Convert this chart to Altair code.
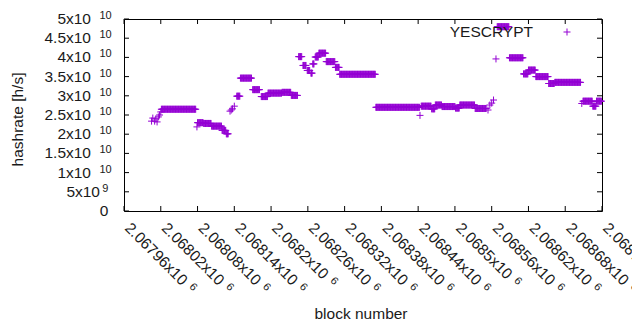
import altair as alt
import pandas as pd

# Runs of constant hashrate: first block, last block, hashrate (in 1e9 h/s)
run_start = [2068005, 2068007, 2068010, 2068012, 2068014, 2068016, 2068018, 2068020,
             2068021, 2068079, 2068080, 2068090, 2068103, 2068120, 2068127,
             2068133, 2068135, 2068137, 2068140, 2068144, 2068150, 2068170,
             2068184, 2068195, 2068218, 2068233, 2068245, 2068252, 2068259,
             2068265, 2068268, 2068272, 2068278, 2068290, 2068305, 2068312,
             2068371, 2068443, 2068445, 2068462, 2068468, 2068479, 2068501,
             2068508, 2068533, 2068554, 2068557, 2068560, 2068563, 2068567,
             2068569, 2068589, 2068612, 2068620, 2068632, 2068653, 2068663,
             2068707, 2068709, 2068725, 2068731]
run_end = [2068005, 2068007, 2068010, 2068012, 2068014, 2068016, 2068018, 2068020,
           2068077, 2068079, 2068089, 2068102, 2068119, 2068126, 2068130,
           2068133, 2068135, 2068137, 2068140, 2068149, 2068168, 2068181,
           2068194, 2068217, 2068232, 2068243, 2068250, 2068257, 2068263,
           2068267, 2068270, 2068277, 2068289, 2068304, 2068311, 2068370,
           2068442, 2068443, 2068461, 2068467, 2068478, 2068500, 2068507,
           2068532, 2068551, 2068554, 2068557, 2068560, 2068563, 2068567,
           2068588, 2068611, 2068619, 2068631, 2068652, 2068662, 2068705,
           2068707, 2068724, 2068730, 2068739]
run_value = [23.4, 24.2, 23.4, 24.0, 23.2, 24.5, 25.0, 25.8,
             26.5, 21.9, 23.0, 22.8, 22.1, 21.0, 20.1,
             26.0, 26.3, 26.6, 27.3, 29.9, 34.6, 31.6,
             29.8, 30.7, 30.9, 30.1, 40.2, 37.9, 36.6,
             35.9, 38.3, 40.1, 41.1, 38.9, 37.4, 35.6,
             27.0, 24.9, 27.3, 26.6, 27.6, 27.2, 26.8,
             27.6, 26.7, 26.3, 27.6, 28.1, 28.9, 39.6,
             48.0, 39.9, 35.7, 36.7, 35.0, 33.2, 33.5,
             28.0, 28.6, 27.3, 28.6]

x_ticks = [2067960, 2068020, 2068080, 2068140, 2068200, 2068260, 2068320,
           2068380, 2068440, 2068500, 2068560, 2068620, 2068680, 2068740]
x_mant = ["2.06796x10", "2.06802x10", "2.06808x10", "2.06814x10", "2.0682x10",
          "2.06826x10", "2.06832x10", "2.06838x10", "2.06844x10", "2.0685x10",
          "2.06856x10", "2.06862x10", "2.06868x10", "2.06874x10"]
x_exp = ["6"] * len(x_ticks)
y_ticks = [0, 5e9, 1e10, 1.5e10, 2e10, 2.5e10, 3e10, 3.5e10, 4e10, 4.5e10, 5e10]
y_mant = ["0", "5x10", "1x10", "1.5x10", "2x10", "2.5x10", "3x10", "3.5x10",
          "4x10", "4.5x10", "5x10"]
y_exp = ["", "9", "10", "10", "10", "10", "10", "10", "10", "10", "10"]
series_name = ["YESCRYPT"]

blocks, rates = [], []
for s, e, v in zip(run_start, run_end, run_value):
    for b in range(s, e + 1):
        blocks.append(b)
        rates.append(v * 1e9)
df = pd.DataFrame({"block": blocks, "hashrate": rates})

W, H = 478, 192
FONT = "Liberation Sans"
FS = 15.5
EFS = 11
TXT = "#1a1a1a"
PURPLE = "#9400d3"
PLUS = "M-1,0L1,0M0,-1L0,1"

xscale = alt.Scale(domain=[x_ticks[0], x_ticks[-1]], nice=False, zero=False)
yscale = alt.Scale(domain=[0, 5e10], nice=False, zero=True)

xaxis = alt.Axis(
    values=x_ticks, ticks=False, domain=False, grid=False, labels=False,
    title="block number", titleFont=FONT, titleFontSize=FS,
    titleFontWeight="normal", titleColor=TXT,
    titleX=236.5, titleY=107.5, titleBaseline="alphabetic", titleAlign="center")
yaxis = alt.Axis(
    values=y_ticks, ticks=False, domain=False, grid=False, labels=False,
    title="hashrate [h/s]", titleFont=FONT, titleFontSize=FS,
    titleFontWeight="normal", titleColor=TXT, titleAngle=270,
    titleX=-106.5, titleY=100, titleBaseline="middle", titleAlign="center")

X = lambda f: alt.X(f, scale=xscale, axis=xaxis)
Y = lambda f: alt.Y(f, scale=yscale, axis=yaxis)

points = alt.Chart(df).mark_point(
    shape=PLUS, filled=False, stroke=PURPLE, strokeWidth=1, size=49, opacity=1
).encode(x=X("block:Q"), y=Y("hashrate:Q"))

xt = pd.DataFrame({"block": x_ticks, "mant": x_mant, "exp": x_exp})
yt = pd.DataFrame({"hashrate": y_ticks, "mant": y_mant, "exp": y_exp})
tick_style = dict(color="black", strokeWidth=1)
xb = alt.Chart(xt).mark_rule(**tick_style).encode(
    x=X("block:Q"), y=alt.value(H), y2=alt.value(H - 5))
xtp = alt.Chart(xt).mark_rule(**tick_style).encode(
    x=X("block:Q"), y=alt.value(0), y2=alt.value(5))
yl = alt.Chart(yt).mark_rule(**tick_style).encode(
    y=Y("hashrate:Q"), x=alt.value(0), x2=alt.value(5))
yr = alt.Chart(yt).mark_rule(**tick_style).encode(
    y=Y("hashrate:Q"), x=alt.value(W), x2=alt.value(W - 5))

# x tick labels, rotated, with raised exponent
xbase = alt.Chart(xt).encode(x=X("block:Q"), y=alt.value(H + 18))
xlab = xbase.mark_text(angle=45, align="left", baseline="alphabetic",
                       font=FONT, fontSize=FS, color=TXT).encode(text="mant:N")
xexp10 = xbase.transform_filter("length(datum.mant) == 10").mark_text(
    angle=45, align="left", baseline="alphabetic", font=FONT, fontSize=EFS,
    color=TXT, dx=87, dy=-4.5).encode(text="exp:N")
xexp9 = xbase.transform_filter("length(datum.mant) == 9").mark_text(
    angle=45, align="left", baseline="alphabetic", font=FONT, fontSize=EFS,
    color=TXT, dx=78.5, dy=-4.5).encode(text="exp:N")

# y tick labels with raised exponent
ybase = alt.Chart(yt).encode(y=Y("hashrate:Q"))
ym10 = ybase.transform_filter("datum.exp == '10'").mark_text(
    align="right", baseline="middle", font=FONT, fontSize=FS, color=TXT
).encode(x=alt.value(-33), text="mant:N")
ym9 = ybase.transform_filter("datum.exp == '9'").mark_text(
    align="right", baseline="middle", font=FONT, fontSize=FS, color=TXT
).encode(x=alt.value(-24), text="mant:N")
ym0 = ybase.transform_filter("datum.exp == ''").mark_text(
    align="right", baseline="middle", font=FONT, fontSize=FS, color=TXT
).encode(x=alt.value(-15.7), text="mant:N")
ye10 = ybase.transform_filter("datum.exp == '10'").mark_text(
    align="right", baseline="alphabetic", font=FONT, fontSize=EFS, color=TXT
).encode(x=alt.value(-12.3), text="exp:N")
ye9 = ybase.transform_filter("datum.exp == '9'").mark_text(
    align="right", baseline="alphabetic", font=FONT, fontSize=EFS, color=TXT
).encode(x=alt.value(-15.7), text="exp:N")

leg = pd.DataFrame({"label": series_name})
leg_text = alt.Chart(leg).mark_text(
    align="right", baseline="middle", font=FONT, fontSize=FS, color=TXT
).encode(x=alt.value(409), y=alt.value(13), text="label:N")
leg_mark = alt.Chart(leg).mark_point(
    shape=PLUS, filled=False, stroke=PURPLE, strokeWidth=1, size=49, opacity=1
).encode(x=alt.value(443), y=alt.value(13))

chart = alt.layer(points, xb, xtp, yl, yr, xlab, xexp10, xexp9,
                  ym10, ym9, ym0, ye10, ye9, leg_text, leg_mark).properties(
    width=W, height=H,
    padding={"left": 116, "top": 11, "right": 30, "bottom": 110},
    autosize=alt.AutoSizeParams(type="none"),
    background="white",
).configure_view(stroke="black", strokeWidth=1)

chart.save("out.html", embed_options={"renderer": "svg", "actions": False})
